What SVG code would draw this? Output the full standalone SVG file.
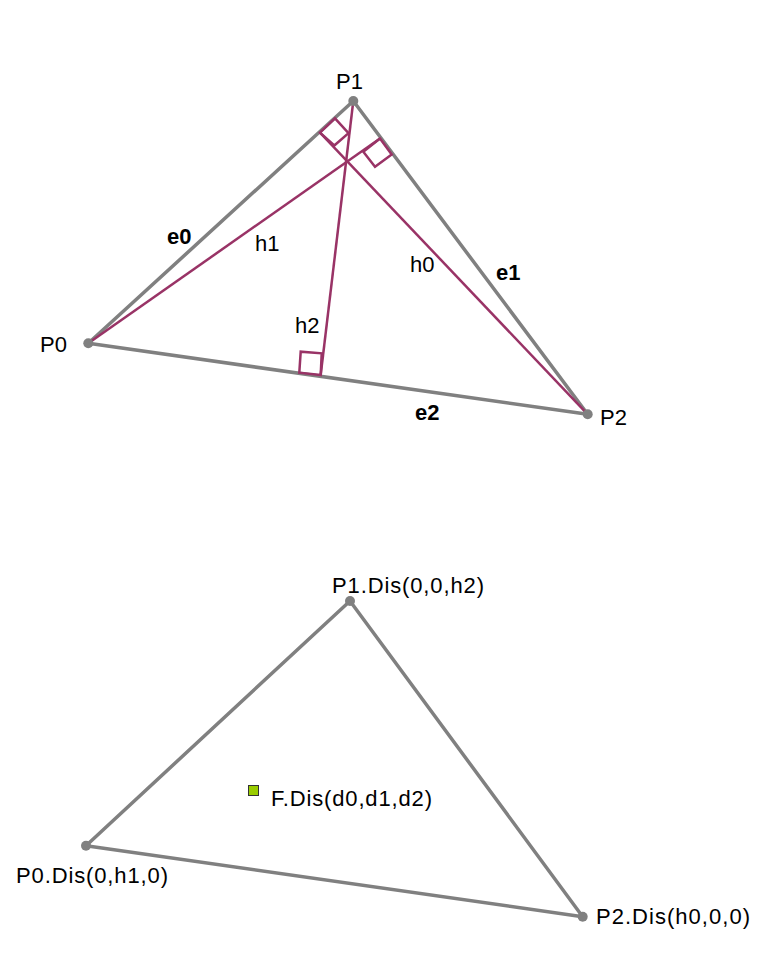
<svg xmlns="http://www.w3.org/2000/svg" width="781" height="953" viewBox="0 0 781 953">
<style>
.edge{stroke:#808080;stroke-width:3.5;fill:none;stroke-linecap:round}
.alt{stroke:#993366;stroke-width:2.5;fill:none}
.dot{fill:#808080}
.lbl{font-family:"Liberation Sans",Arial,sans-serif;font-size:22px;fill:#000}
.b{font-weight:bold}
</style>
<rect width="781" height="953" fill="#fff"/>
<g id="top-edges">
<line id="e0" class="edge" x1="88.3" y1="343.3" x2="353.3" y2="101"/>
<line id="e1" class="edge" x1="353.3" y1="101" x2="587.7" y2="414.3"/>
<line id="e2" class="edge" x1="88.3" y1="343.3" x2="587.7" y2="414.3"/>
</g>
<g id="altitudes">
<line id="h0" class="alt" x1="587.7" y1="414.3" x2="320" y2="132.7"/>
<polygon class="alt" points="320,132.7 335,118.3 348.5,133.1 334.3,145.5"/>
<line id="h1" class="alt" x1="88.3" y1="343.3" x2="380" y2="138.5"/>
<polygon class="alt" points="380,138.5 391.7,154.5 375,166.7 363.3,151.7"/>
<line id="h2" class="alt" x1="353.3" y1="101" x2="320.7" y2="375"/>
<polygon class="alt" points="320.7,375 299.3,372.7 300.7,351.7 321.7,353.3"/>
</g>
<g id="P0"><circle class="dot" cx="88.3" cy="343.3" r="5"/><text class="lbl" x="40" y="352">P0</text></g>
<g id="P1"><circle class="dot" cx="353.3" cy="101" r="5"/><text class="lbl" x="336" y="89">P1</text></g>
<g id="P2"><circle class="dot" cx="587.7" cy="414.3" r="5"/><text class="lbl" x="600" y="425">P2</text></g>
<g id="labels">
<text class="lbl b" x="167" y="244">e0</text>
<text class="lbl" x="255" y="251">h1</text>
<text class="lbl" x="410" y="272">h0</text>
<text class="lbl b" x="496" y="280">e1</text>
<text class="lbl" x="295" y="333">h2</text>
<text class="lbl b" x="415" y="420">e2</text>
</g>
<g id="connectors">
<line class="edge" x1="86" y1="845.7" x2="350" y2="601"/>
<line class="edge" x1="350" y1="601" x2="582.7" y2="916.7"/>
<line class="edge" x1="86" y1="845.7" x2="582.7" y2="916.7"/>
</g>
<g id="Q0"><circle class="dot" cx="86" cy="845.7" r="5"/><text class="lbl" x="16" y="883" textLength="152" lengthAdjust="spacing">P0.Dis(0,h1,0)</text></g>
<g id="Q1"><circle class="dot" cx="350" cy="601" r="5"/><text class="lbl" x="332" y="593" textLength="152" lengthAdjust="spacing">P1.Dis(0,0,h2)</text></g>
<g id="Q2"><circle class="dot" cx="582.7" cy="916.7" r="5"/><text class="lbl" x="596" y="924" textLength="154" lengthAdjust="spacing">P2.Dis(h0,0,0)</text></g>
<g id="F"><rect x="248.5" y="785.5" width="10" height="10" fill="#99cc00" stroke="#333" stroke-width="1"/><text class="lbl" x="271" y="806" textLength="161" lengthAdjust="spacing">F.Dis(d0,d1,d2)</text></g>
</svg>
